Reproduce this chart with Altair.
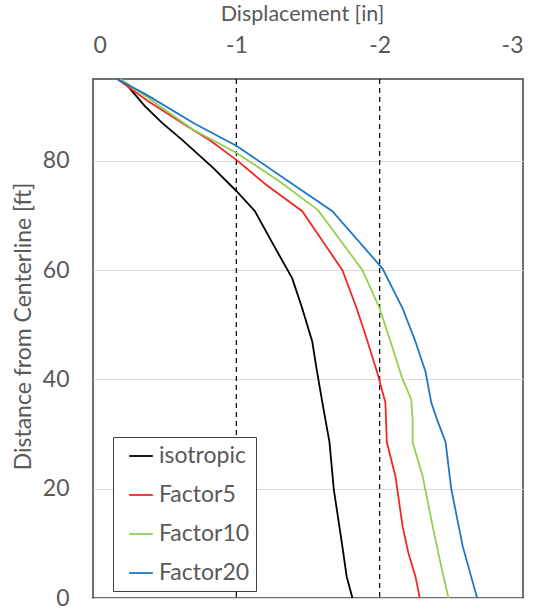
import altair as alt
import pandas as pd

series_names = ["isotropic", "Factor5", "Factor10", "Factor20"]
series_colors = ["#000000", "#F02828", "#92D050", "#1F77C8"]

iso_y = [95, 93.8, 90.1, 87.0, 83.9, 78.7, 74.5, 70.8, 64.6, 58.5, 53, 46.9, 41.9, 35.8, 28.5, 19.9, 9.4, 3.9, 0]
iso_x = [-0.17, -0.24, -0.36, -0.48, -0.62, -0.84, -1.0, -1.13, -1.26, -1.39, -1.46, -1.53, -1.56, -1.60, -1.65, -1.68, -1.74, -1.77, -1.81]

f5_y = [95, 91, 86, 83.7, 80.2, 75.6, 70.8, 60, 53, 47.4, 40.7, 37.7, 35.8, 28.5, 22.3, 13.1, 8.3, 3.9, 0]
f5_x = [-0.17, -0.38, -0.68, -0.82, -1.0, -1.21, -1.46, -1.74, -1.84, -1.91, -1.99, -2.02, -2.04, -2.05, -2.11, -2.16, -2.20, -2.25, -2.28]

f10_y = [95, 91.6, 85.7, 81.5, 76.3, 71, 60, 53, 47.4, 40, 36.4, 32.7, 28.5, 22.3, 13.1, 5.7, 0]
f10_x = [-0.19, -0.38, -0.70, -1.0, -1.30, -1.57, -1.88, -2.0, -2.07, -2.16, -2.22, -2.23, -2.23, -2.30, -2.37, -2.43, -2.48]

f20_y = [95, 92.0, 86.8, 82.8, 76.5, 70.8, 60.3, 53, 46.9, 41.4, 35.8, 32.7, 28.5, 19.9, 9.4, 0]
f20_x = [-0.17, -0.38, -0.71, -1.0, -1.35, -1.67, -2.02, -2.16, -2.25, -2.32, -2.36, -2.40, -2.46, -2.50, -2.58, -2.68]

x_ticks = [0, -1, -2, -3]
y_ticks = [0, 20, 40, 60, 80]
dashed_x = [-1, -2]

rows = []
for name, xs, ys in [("isotropic", iso_x, iso_y), ("Factor5", f5_x, f5_y),
                     ("Factor10", f10_x, f10_y), ("Factor20", f20_x, f20_y)]:
    for i, (xv, yv) in enumerate(zip(xs, ys)):
        rows.append({"series": name, "disp": xv, "dist": yv, "idx": i})
df = pd.DataFrame(rows)
rules_df = pd.DataFrame({"disp": dashed_x})

FONT = "Lato"
GREY = "#595959"

x_scale = alt.Scale(domain=[-3, 0], reverse=True, nice=False, zero=False)
y_scale = alt.Scale(domain=[0, 95], nice=False)

lines = alt.Chart(df).mark_line(strokeWidth=1.8).encode(
    x=alt.X("disp:Q", scale=x_scale,
            axis=alt.Axis(orient="top", values=x_ticks, title="Displacement [in]",
                          grid=False, ticks=False, domain=False,
                          labelExpr="datum.value == 0 ? '0' : '-' + abs(datum.value)",
                          labelFontSize=23, labelColor=GREY, labelPadding=22,
                          labelFont=FONT, titleFont=FONT, titleFontSize=21.5,
                          titleColor=GREY, titleFontWeight="normal", titlePadding=9,
                          titleX=209)),
    y=alt.Y("dist:Q", scale=y_scale,
            axis=alt.Axis(values=y_ticks, title="Distance from Centerline [ft]",
                          grid=True, gridColor="#D9D9D9", gridWidth=1.2,
                          ticks=False, domain=False,
                          labelFontSize=23, labelColor=GREY, labelPadding=24,
                          labelFont=FONT, titleFont=FONT, titleFontSize=23,
                          titleColor=GREY, titleFontWeight="normal", titlePadding=7,
                          titleY=247)),
    color=alt.Color("series:N",
                    scale=alt.Scale(domain=series_names, range=series_colors),
                    legend=alt.Legend(title=None, orient="none", legendX=20, legendY=358,
                                      symbolType="stroke", symbolStrokeWidth=1.8,
                                      symbolSize=560, labelFontSize=23, labelFont=FONT,
                                      labelColor=GREY, fillColor="white",
                                      strokeColor="#404040", padding=6,
                                      rowPadding=14, labelOffset=5, symbolOffset=9)),
    order=alt.Order("idx:Q"),
)

rules = alt.Chart(rules_df).mark_rule(color="#000000", strokeDash=[5, 4], strokeWidth=1.2).encode(
    x=alt.X("disp:Q", scale=x_scale)
)

chart = alt.layer(rules, lines).properties(
    width=430, height=519,
    padding={"left": 93, "top": 79, "right": 10, "bottom": 13},
    autosize=alt.AutoSizeParams(type="none"),
    background="white",
).configure_view(stroke="#404040", strokeWidth=1.5)

chart.save("out.html", embed_options={"renderer": "svg", "actions": False})
